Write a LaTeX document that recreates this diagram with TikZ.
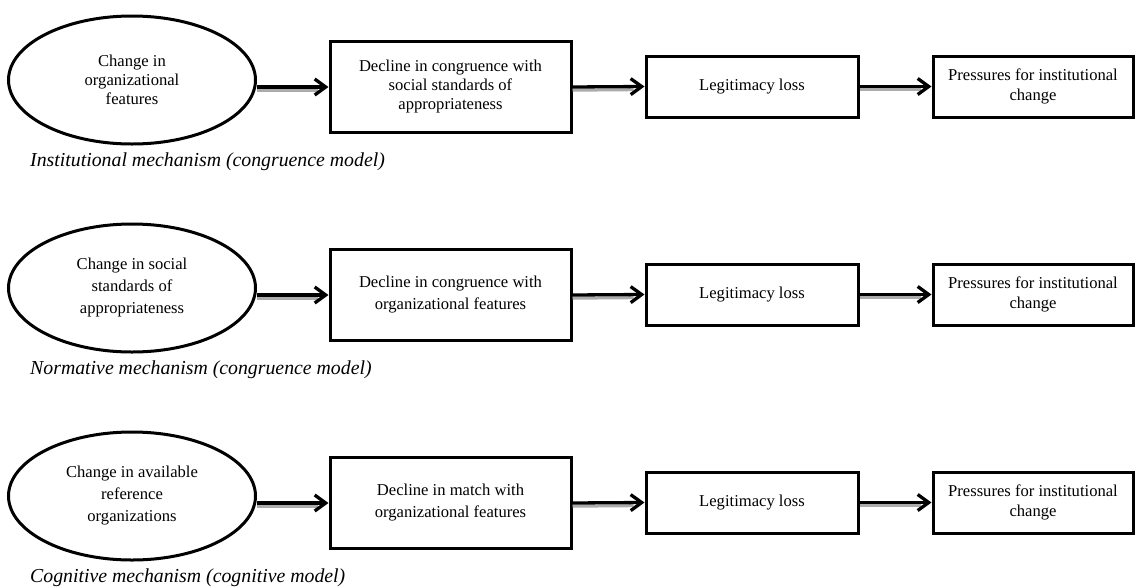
\documentclass[tikz,border=0pt]{standalone}
\usepackage{fontspec}
\setmainfont{Liberation Serif}
\usetikzlibrary{shapes.geometric,arrows.meta}
\begin{document}
\begin{tikzpicture}[x=1pt,y=-1pt,
  every node/.style={font=\fontsize{16.6}{19}\selectfont, align=center, inner sep=0pt},
  wide/.style={font=\fontsize{16.6}{22}\selectfont},
  ell/.style={draw, ellipse, line width=3pt, minimum width=247pt, minimum height=128pt},
  boxa/.style={draw, rectangle, line width=3pt, minimum width=241pt, minimum height=91pt},
  boxb/.style={draw, rectangle, line width=3pt, minimum width=212pt, minimum height=61pt},
  boxc/.style={draw, rectangle, line width=3pt, minimum width=200pt, minimum height=61pt, font=\fontsize{16.6}{20}\selectfont},
  lab/.style={anchor=base west, font=\fontsize{19.8}{22}\selectfont\itshape},
  conn/.style={line width=3.3pt, -{Straight Barb[length=11pt,width=16pt]}},
  shad/.style={line width=3pt, black!33}
]
\useasboundingbox (0,0) rectangle (1136,587);
\foreach \r/\dy/\st/\ta/\tb/\tl in {
  1/0/{}/{Change in\\organizational\\features}/{Decline in congruence with\\social standards of\\appropriateness}/{Institutional mechanism (congruence model)},
  2/208/wide/{Change in social\\standards of\\appropriateness}/{Decline in congruence with\\organizational features}/{Normative mechanism (congruence model)},
  3/416/wide/{Change in available\\reference\\organizations}/{Decline in match with\\organizational features}/{Cognitive mechanism (cognitive model)}} {
  \node[ell,\st] (e\r) at (132,80+\dy) {\ta};
  \node[boxa,\st] (b\r) at (450.5,87+\dy) {\tb};
  \node[boxb] (c\r) at (752,86.5+\dy) {Legitimacy loss};
  \node[boxc] (d\r) at (1033,86.5+\dy) {Pressures for institutional\\change};
  \node[lab] (l\r) at (30,166+\dy) {\tl};
  \coordinate (s\r) at (e\r.east |- b\r.west);
  \draw[shad] ([yshift=-3.2pt]s\r) -- ([yshift=-3.2pt,xshift=-11pt]b\r.west);
  \draw[shad] ([yshift=-3.2pt]b\r.east) -- ([yshift=-3.2pt,xshift=-11pt]c\r.west);
  \draw[shad] ([yshift=-3.2pt]c\r.east) -- ([yshift=-3.2pt,xshift=-11pt]d\r.west);
  \draw[conn] (s\r) -- (b\r.west);
  \draw[conn] (b\r.east) -- (c\r.west);
  \draw[conn] (c\r.east) -- (d\r.west);
}
\end{tikzpicture}
\end{document}
